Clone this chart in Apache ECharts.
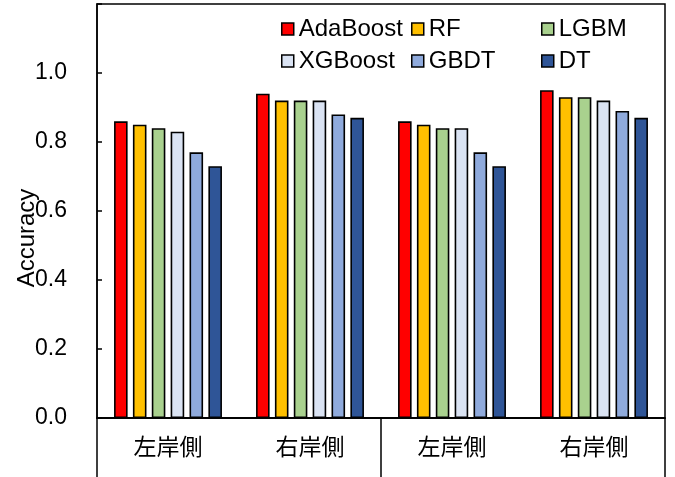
<!DOCTYPE html>
<html>
<head>
<meta charset="utf-8">
<script src="https://cdn.jsdelivr.net/npm/echarts@6/dist/echarts.min.js"></script>
<style>
  html, body { margin: 0; padding: 0; background: #fff; }
  #chart { width: 675px; height: 477px; }
</style>
</head>
<body>
<div id="chart"></div>
<script>
// categories
var categories = ['左岸側', '右岸側', '左岸側', '右岸側'];
var groups = ['', ''];
var modelNames = ['AdaBoost', 'RF', 'LGBM', 'XGBoost', 'GBDT', 'DT'];
var modelColors = ['#FF0000', '#FFC000', '#A9D18E', '#DAE3F3', '#8FAADC', '#2F5597'];

// accuracy per model
var adaBoost = [0.86, 0.94, 0.86, 0.95];
var rf       = [0.85, 0.92, 0.85, 0.93];
var lgbm     = [0.84, 0.92, 0.84, 0.93];
var xgBoost  = [0.83, 0.92, 0.84, 0.92];
var gbdt     = [0.77, 0.88, 0.77, 0.89];
var dt       = [0.73, 0.87, 0.73, 0.87];
var seriesData = [adaBoost, rf, lgbm, xgBoost, gbdt, dt];

var yTicks = [0.0, 0.2, 0.4, 0.6, 0.8, 1.0];

var font = 'Liberation Sans, Arial, sans-serif';
var cjkFont = 'Noto Sans CJK JP, sans-serif';

var myChart = echarts.init(document.getElementById('chart'));

var series = [];
for (var i = 0; i < modelNames.length; i++) {
    series.push({
        name: modelNames[i],
        type: 'bar',
        xAxisIndex: 0,
        barCategoryGap: '24%',
        barGap: '39%',
        itemStyle: {
            color: modelColors[i],
            borderColor: '#000',
            borderWidth: 1.6
        },
        data: seriesData[i]
    });
}

function makeLegend(items, left) {
    return {
        orient: 'vertical',
        left: left,
        top: 17,
        padding: 0,
        itemGap: 8,
        itemWidth: 12,
        itemHeight: 12,
        icon: 'rect',
        data: items,
        itemStyle: { borderColor: '#000', borderWidth: 1.5 },
        textStyle: { fontSize: 24, lineHeight: 24, fontFamily: font, color: '#000' }
    };
}

myChart.setOption({
    animation: false,
    grid: {
        left: 97, right: 10, top: 4, bottom: 59,
        outerBoundsMode: 'none',
        containLabel: false,
        show: true,
        borderColor: '#000',
        borderWidth: 1.5
    },
    legend: [
        makeLegend(['AdaBoost', 'XGBoost'], 281),
        makeLegend(['RF', 'GBDT'], 411),
        makeLegend(['LGBM', 'DT'], 541)
    ],
    xAxis: [{
        type: 'category',
        data: categories,
        axisLine: { lineStyle: { color: '#000', width: 1.5 } },
        axisTick: { show: false },
        axisLabel: { fontSize: 23, fontFamily: cjkFont, color: '#000', margin: 17 }
    }, {
        type: 'category',
        data: groups,
        position: 'bottom',
        axisLine: { lineStyle: { color: '#000', width: 1.5 } },
        axisTick: { show: true, interval: 0, length: 60, lineStyle: { color: '#000', width: 1.5 } },
        axisLabel: { show: false }
    }],
    yAxis: {
        type: 'value',
        min: 0,
        max: 1.2,
        interval: 0.2,
        name: 'Accuracy',
        nameLocation: 'middle',
        nameGap: 58,
        nameMoveOverlap: false,
        nameTextStyle: { fontSize: 24, fontFamily: font, color: '#000', padding: [0, 54, 0, 0] },
        axisLine: { show: true, lineStyle: { color: '#000', width: 1.5 } },
        axisTick: { show: true, inside: true, length: 5, lineStyle: { color: '#000', width: 1.5 } },
        splitLine: { show: false },
        axisLabel: {
            fontSize: 23, fontFamily: font, color: '#000', margin: 30,
            formatter: function (v) {
                for (var k = 0; k < yTicks.length; k++) {
                    if (Math.abs(yTicks[k] - v) < 1e-6) return yTicks[k].toFixed(1);
                }
                return '';
            }
        }
    },
    series: series
});
</script>
</body>
</html>
